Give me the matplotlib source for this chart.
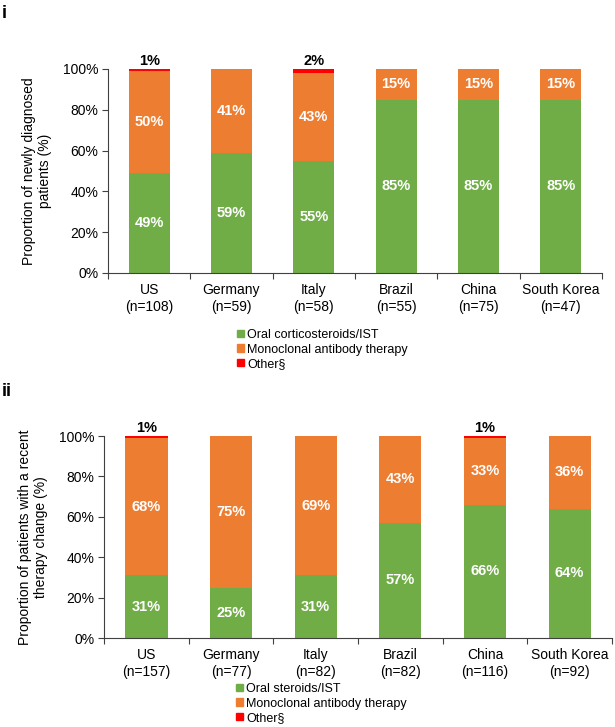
import matplotlib
matplotlib.use("Agg")
import matplotlib.pyplot as plt
from matplotlib.patches import Patch

plt.rcParams['font.family'] = ['Liberation Sans', 'DejaVu Sans']

countries = ["US", "Germany", "Italy", "Brazil", "China", "South Korea"]
n_i = [108, 59, 58, 55, 75, 47]
green_i = [49, 59, 55, 85, 85, 85]
orange_i = [50, 41, 43, 15, 15, 15]
other_i = [1, 0, 2, 0, 0, 0]

n_ii = [157, 77, 82, 82, 116, 92]
green_ii = [31, 25, 31, 57, 66, 64]
orange_ii = [68, 75, 69, 43, 33, 36]
other_ii = [1, 0, 0, 0, 1, 0]

legend_i = ["Oral corticosteroids/IST", "Monoclonal antibody therapy", "Other§"]
legend_ii = ["Oral steroids/IST", "Monoclonal antibody therapy", "Other§"]
yticks = [0, 20, 40, 60, 80, 100]

GREEN = "#70AD47"
ORANGE = "#ED7D31"
RED = "#FF0000"
AXC = "#404040"

W, H = 615, 727
fig = plt.figure(figsize=(W / 100, H / 100), dpi=100)


def panel(rect, green, orange, other, ns, ylabel, legend_labels, leg_xy, letter, letter_xy):
    ax = fig.add_axes(rect)
    x = list(range(len(countries)))
    ax.bar(x, green, width=0.5, color=GREEN, edgecolor='none')
    ax.bar(x, orange, width=0.5, bottom=green, color=ORANGE, edgecolor='none')
    bot2 = [g + o for g, o in zip(green, orange)]
    ax.bar(x, other, width=0.5, bottom=bot2, color=RED, edgecolor='none')
    for i in x:
        ax.text(i, green[i] / 2, f"{green[i]}%", ha='center', va='center',
                color='white', fontweight='bold', fontsize=10.5)
        ax.text(i, green[i] + orange[i] / 2, f"{orange[i]}%", ha='center', va='center',
                color='white', fontweight='bold', fontsize=10.5)
        if other[i] > 0:
            ax.text(i, 100.3, f"{other[i]}%", ha='center', va='bottom',
                    color='black', fontweight='bold', fontsize=10.5, clip_on=False)
    ax.set_xlim(-0.5, len(countries) - 0.5)
    ax.set_ylim(0, 100)
    ax.set_yticks(yticks)
    ax.set_yticklabels([f"{t}%" for t in yticks], fontsize=10)
    ax.set_xticks([i - 0.5 for i in range(len(countries) + 1)])
    ax.set_xticklabels([])
    ax.set_xticks(x, minor=True)
    ax.set_xticklabels([f"{c}\n(n={n})" for c, n in zip(countries, ns)], minor=True,
                       fontsize=10, linespacing=1.3)
    ax.tick_params(axis='x', which='minor', length=0, pad=7)
    ax.tick_params(axis='x', which='major', length=4, direction='out', color=AXC)
    ax.tick_params(axis='y', length=4, direction='out', color=AXC, pad=3)
    for s in ['top', 'right']:
        ax.spines[s].set_visible(False)
    for s in ['left', 'bottom']:
        ax.spines[s].set_color(AXC)
    ax.set_ylabel(ylabel, fontsize=10, labelpad=8, linespacing=1.15)
    handles = [Patch(color=GREEN), Patch(color=ORANGE), Patch(color=RED)]
    fig.legend(handles, legend_labels, loc='upper left', bbox_to_anchor=leg_xy,
               frameon=False, fontsize=9, handlelength=0.55, handleheight=0.55,
               handletextpad=0.25, labelspacing=0.2, borderpad=0, borderaxespad=0)
    fig.text(letter_xy[0], letter_xy[1], letter, fontsize=13, fontweight='bold',
             ha='left', va='top')
    return ax


panel([108 / W, 1 - 273 / H, 494 / W, 204 / H], green_i, orange_i, other_i, n_i,
      "Proportion of newly diagnosed\npatients (%)", legend_i,
      (237 / W, 1 - 329 / H), "i", (2 / W, 1 - 5 / H))
panel([104 / W, 1 - 638 / H, 508 / W, 202 / H], green_ii, orange_ii, other_ii, n_ii,
      "Proportion of patients with a recent\ntherapy change (%)", legend_ii,
      (236 / W, 1 - 683 / H), "ii", (2 / W, 1 - 383 / H))

fig.savefig("out.png", dpi=100)
